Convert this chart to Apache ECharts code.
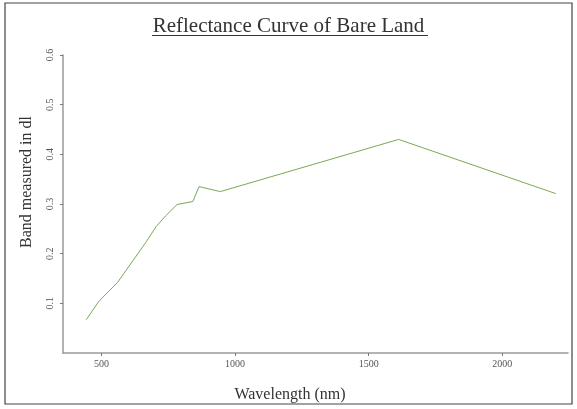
<!DOCTYPE html>
<html>
<head>
<meta charset="utf-8">
<script src="https://cdn.jsdelivr.net/npm/echarts@6/dist/echarts.min.js"></script>
<style>
html,body{margin:0;padding:0;background:#fff;}
#chart{width:577px;height:409px;}
</style>
</head>
<body>
<div id="chart"></div>
<script>
var wavelengths = [443, 490, 560, 665, 705, 740, 783, 842, 865, 945, 1612, 2200];
var reflectance = [0.067, 0.104, 0.142, 0.222, 0.255, 0.276, 0.299, 0.305, 0.335, 0.325, 0.43, 0.321];
var xTicks = [500, 1000, 1500, 2000];
var yTicks = [0.1, 0.2, 0.3, 0.4, 0.5, 0.6];

var serif = "'Liberation Serif', 'DejaVu Serif', serif";
var chart = echarts.init(document.getElementById('chart'), null, {renderer: 'canvas'});
var data = wavelengths.map(function (w, i) { return [w, reflectance[i]]; });

chart.setOption({
  animation: false,
  backgroundColor: '#fff',
  title: {
    text: 'Reflectance Curve of Bare Land',
    left: 'center',
    top: 11,
    textStyle: {fontFamily: serif, fontSize: 21, fontWeight: 'normal', color: '#333'}
  },
  grid: {left: 63, right: 9, top: 55, bottom: 56},
  xAxis: {
    type: 'value',
    min: 356,
    max: 2246,
    splitLine: {show: false},
    axisLine: {show: true, lineStyle: {color: '#999', width: 1.5}},
    axisTick: {show: true, length: 3, lineStyle: {color: '#777'}, customValues: xTicks},
    axisLabel: {fontFamily: serif, fontSize: 10, color: '#555', margin: 6, customValues: xTicks,
      formatter: function (v) { return String(v); }}
  },
  yAxis: {
    type: 'value',
    min: 0,
    max: 0.6,
    splitLine: {show: false},
    axisLine: {show: true, lineStyle: {color: '#999', width: 1.5}},
    axisTick: {show: true, length: 3, lineStyle: {color: '#777'}, customValues: yTicks},
    axisLabel: {fontFamily: serif, fontSize: 10, color: '#555', rotate: 90, margin: 8, customValues: yTicks,
      formatter: function (v) { return v.toFixed(1); }}
  },
  series: [{
    type: 'line',
    data: data,
    showSymbol: false,
    lineStyle: {color: '#7aa956', width: 1},
    itemStyle: {color: '#7aa956'}
  }],
  graphic: [
    {type: 'rect', shape: {x: 5, y: 3, width: 567, height: 401}, style: {fill: 'none', stroke: '#444', lineWidth: 1.2}, silent: true},
    {type: 'line', shape: {x1: 152, y1: 35.5, x2: 428, y2: 35.5}, style: {stroke: '#333', lineWidth: 1}, silent: true},
    {type: 'text', x: 290, y: 395, style: {text: 'Wavelength (nm)', font: '16px ' + serif, fill: '#333', textAlign: 'center', textVerticalAlign: 'middle'}, silent: true},
    {type: 'text', x: 27, y: 182, rotation: Math.PI / 2, style: {text: 'Band measured in dl', font: '16px ' + serif, fill: '#333', textAlign: 'center', textVerticalAlign: 'middle'}, silent: true}
  ]
});
</script>
</body>
</html>
